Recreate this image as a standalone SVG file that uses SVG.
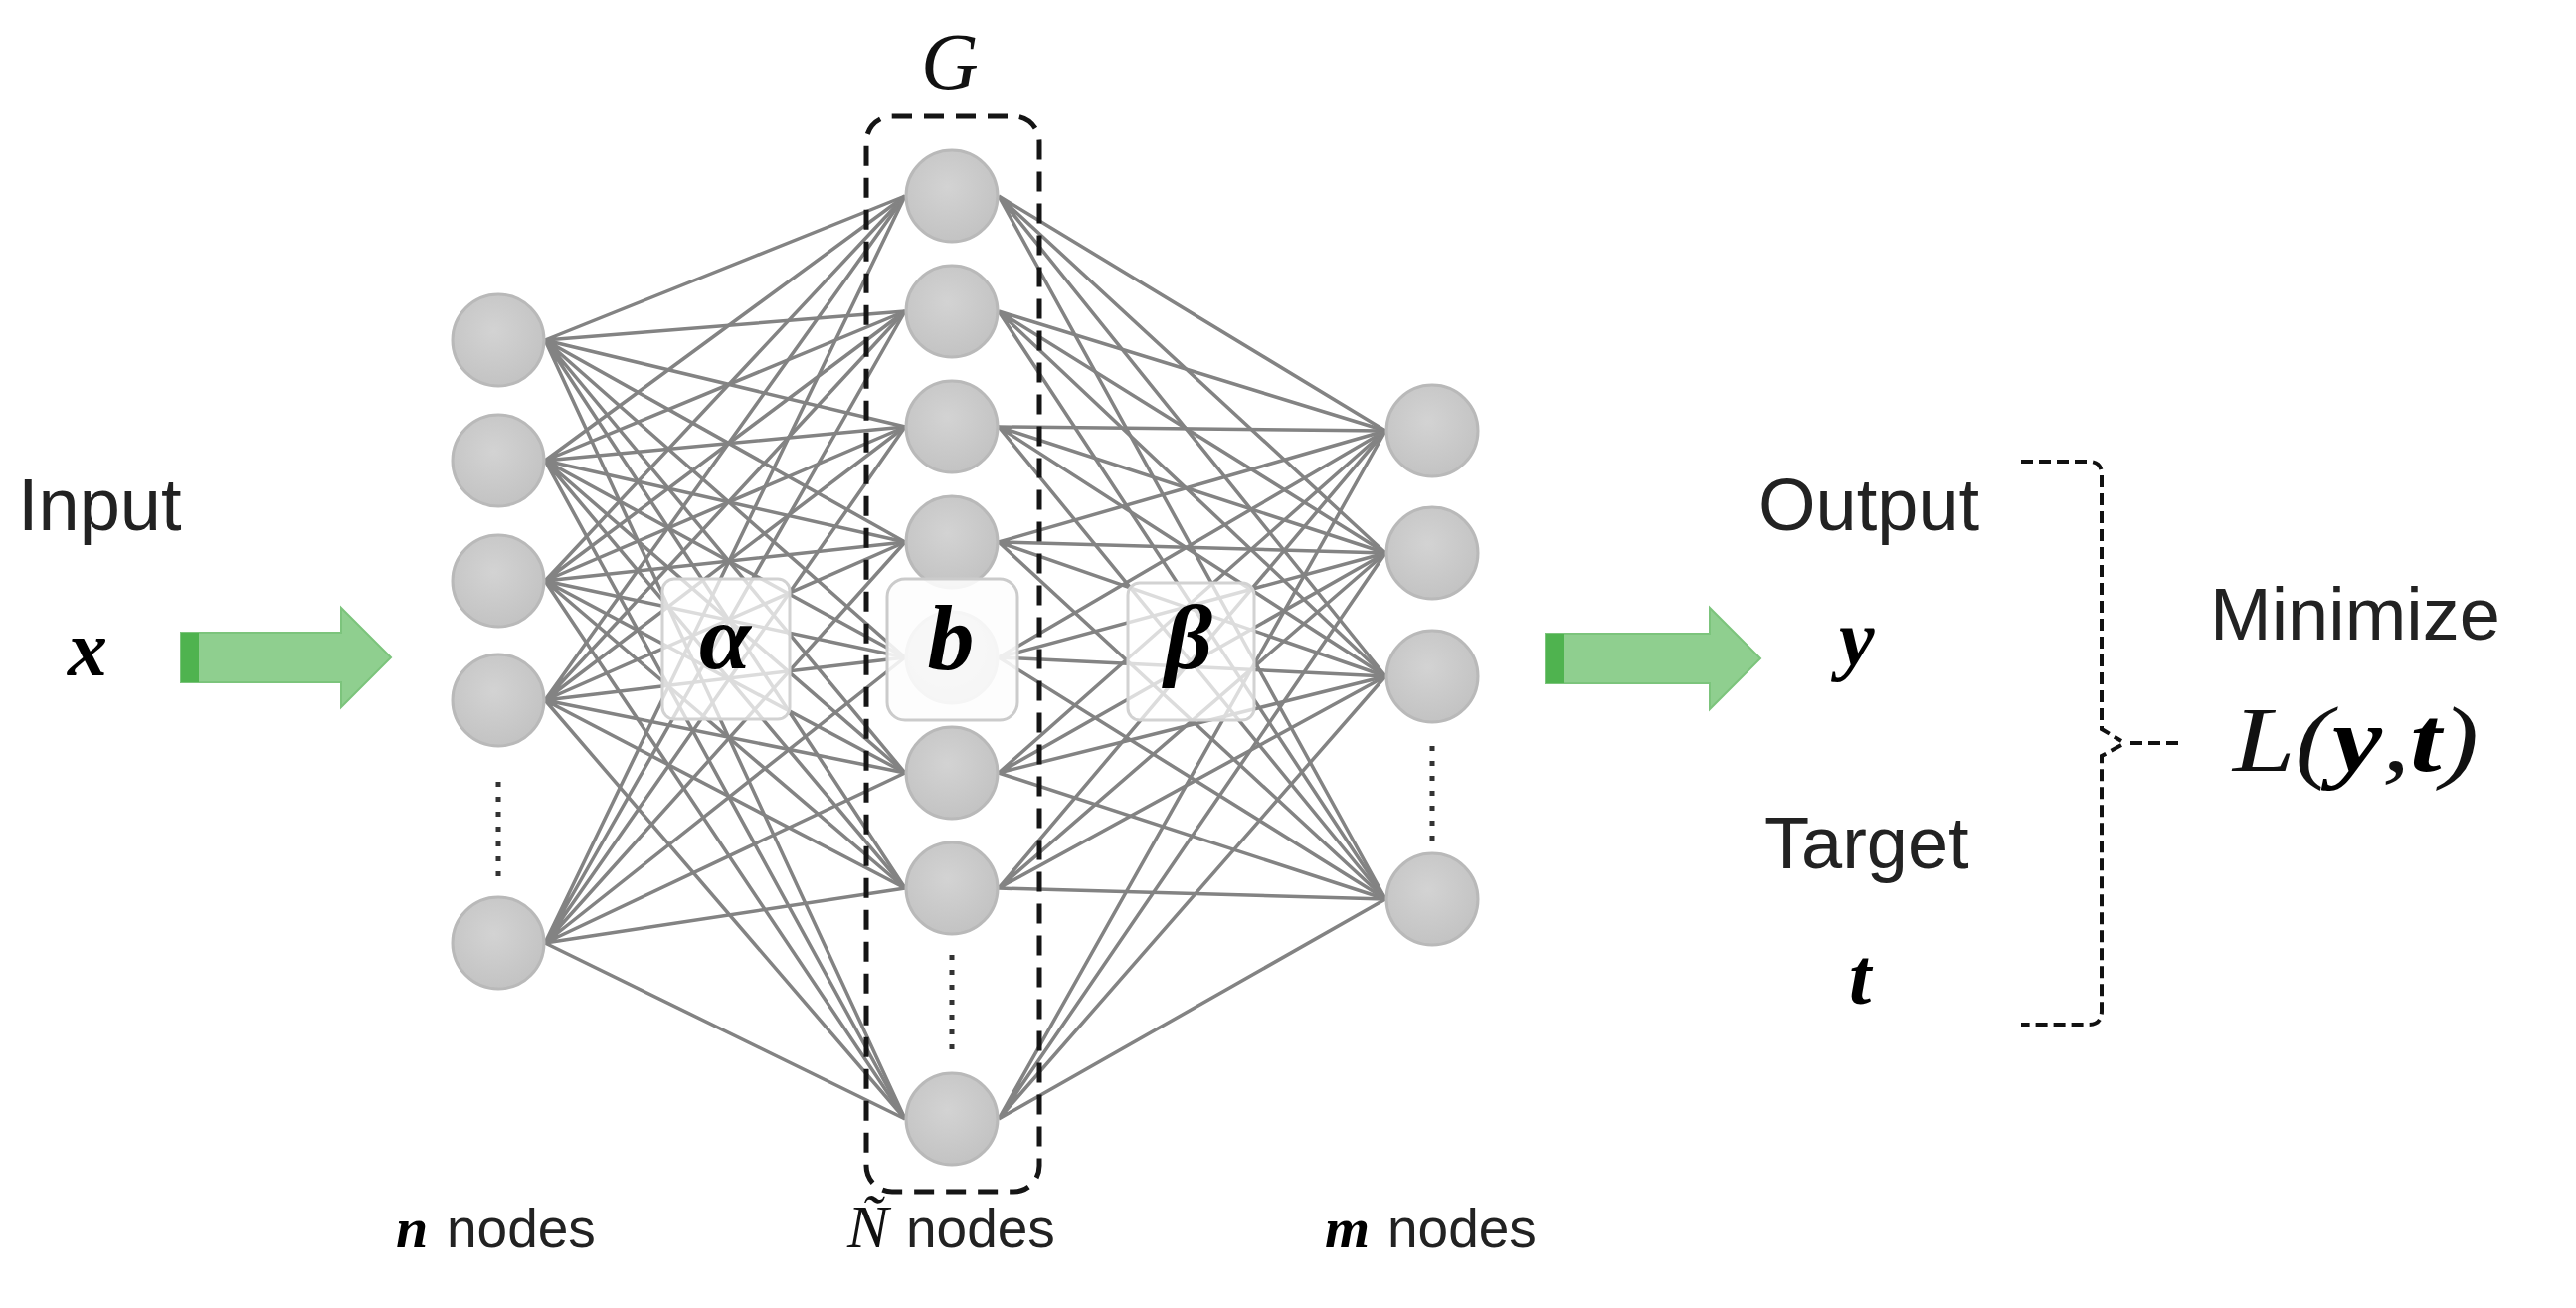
<svg xmlns="http://www.w3.org/2000/svg" width="2590" height="1315" viewBox="0 0 2590 1315">
<style>
.sans{font-family:"Liberation Sans","Noto Sans",Arial,sans-serif;fill:#222}
.math{font-family:"Liberation Serif","DejaVu Serif",serif;font-style:italic;fill:#111}
.bm{font-family:"Liberation Serif","DejaVu Serif",serif;font-style:italic;font-weight:bold;fill:#000}
.node{fill:url(#ng);stroke:#b9b9b9;stroke-width:3}
.edge{stroke:#838383;stroke-width:3.5;fill:none}
.dots{stroke:#333;stroke-width:5;stroke-dasharray:5 10;fill:none}
.garrow{fill:#8fcf8f;stroke:#7cc47c;stroke-width:2}
.gband{fill:#4fb34f}
</style>
<defs>
<radialGradient id="ng" cx="0.45" cy="0.4" r="0.6">
<stop offset="0" stop-color="#d3d3d3"/>
<stop offset="1" stop-color="#c3c3c3"/>
</radialGradient>
</defs>
<rect width="2590" height="1315" fill="#fff"/>
<g id="connectors">
<g class="edge">
<path d="M548,342L910,197M548,342L910,313M548,342L910,429M548,342L910,545M548,342L910,661M548,342L910,777M548,342L910,893M548,342L910,1125"/>
<path d="M548,463L910,197M548,463L910,313M548,463L910,429M548,463L910,545M548,463L910,661M548,463L910,777M548,463L910,893M548,463L910,1125"/>
<path d="M548,584L910,197M548,584L910,313M548,584L910,429M548,584L910,545M548,584L910,661M548,584L910,777M548,584L910,893M548,584L910,1125"/>
<path d="M548,704L910,197M548,704L910,313M548,704L910,429M548,704L910,545M548,704L910,661M548,704L910,777M548,704L910,893M548,704L910,1125"/>
<path d="M548,948L910,197M548,948L910,313M548,948L910,429M548,948L910,545M548,948L910,661M548,948L910,777M548,948L910,893M548,948L910,1125"/>
<path d="M1004,197L1393,433M1004,197L1393,556M1004,197L1393,680M1004,197L1393,904"/>
<path d="M1004,313L1393,433M1004,313L1393,556M1004,313L1393,680M1004,313L1393,904"/>
<path d="M1004,429L1393,433M1004,429L1393,556M1004,429L1393,680M1004,429L1393,904"/>
<path d="M1004,545L1393,433M1004,545L1393,556M1004,545L1393,680M1004,545L1393,904"/>
<path d="M1004,661L1393,433M1004,661L1393,556M1004,661L1393,680M1004,661L1393,904"/>
<path d="M1004,777L1393,433M1004,777L1393,556M1004,777L1393,680M1004,777L1393,904"/>
<path d="M1004,893L1393,433M1004,893L1393,556M1004,893L1393,680M1004,893L1393,904"/>
<path d="M1004,1125L1393,433M1004,1125L1393,556M1004,1125L1393,680M1004,1125L1393,904"/>
</g>
</g>
<g id="input-layer">
<circle class="node" cx="501" cy="342" r="46"/>
<circle class="node" cx="501" cy="463" r="46"/>
<circle class="node" cx="501" cy="584" r="46"/>
<circle class="node" cx="501" cy="704" r="46"/>
<circle class="node" cx="501" cy="948" r="46"/>
<line class="dots" x1="501" y1="786" x2="501" y2="884"/>
<text class="bm" x="398" y="1254" font-size="58">n</text>
<text class="sans" x="449" y="1254" font-size="55">nodes</text>
</g>
<g id="hidden-layer">
<circle class="node" cx="957" cy="197" r="46"/>
<circle class="node" cx="957" cy="313" r="46"/>
<circle class="node" cx="957" cy="429" r="46"/>
<circle class="node" cx="957" cy="545" r="46"/>
<circle class="node" cx="957" cy="661" r="46"/>
<circle class="node" cx="957" cy="777" r="46"/>
<circle class="node" cx="957" cy="893" r="46"/>
<circle class="node" cx="957" cy="1125" r="46"/>
<line class="dots" x1="957" y1="960" x2="957" y2="1060"/>
<text class="math" x="852" y="1254" font-size="62">Ñ</text>
<text class="sans" x="911" y="1254" font-size="55">nodes</text>
</g>
<g id="output-layer">
<circle class="node" cx="1440" cy="433" r="46"/>
<circle class="node" cx="1440" cy="556" r="46"/>
<circle class="node" cx="1440" cy="680" r="46"/>
<circle class="node" cx="1440" cy="904" r="46"/>
<line class="dots" x1="1440" y1="750" x2="1440" y2="850"/>
<text class="bm" x="1332" y="1254" font-size="58">m</text>
<text class="sans" x="1395" y="1254" font-size="55">nodes</text>
</g>
<g id="alpha">
<rect x="666" y="582" width="128" height="141" rx="12" fill="#fff" fill-opacity="0.72" stroke="#d2d2d2" stroke-width="3"/>
<text class="bm" x="729" y="672" font-size="94" text-anchor="middle">α</text>
</g>
<g id="b">
<rect x="892" y="582" width="131" height="142" rx="18" fill="#fdfdfd" fill-opacity="0.88" stroke="#cbcbcb" stroke-width="3"/>
<text class="bm" x="956" y="673" font-size="94" text-anchor="middle">b</text>
</g>
<g id="beta">
<rect x="1134" y="586" width="127" height="138" rx="12" fill="#fff" fill-opacity="0.72" stroke="#d2d2d2" stroke-width="3"/>
<text class="bm" x="1195" y="672" font-size="94" text-anchor="middle">β</text>
</g>
<g id="G">
<rect x="871" y="117" width="174" height="1081" rx="26" fill="none" stroke="#151515" stroke-width="5" stroke-dasharray="20 12"/>
<text class="math" x="955" y="89" font-size="80" text-anchor="middle">G</text>
</g>
<g id="input">
<text class="sans" x="18" y="533" font-size="74">Input</text>
<text class="bm" x="68" y="679" font-size="80">x</text>
<path class="garrow" d="M182,636H343V611L393,661L343,711V686H182Z"/>
<rect class="gband" x="182" y="636" width="18" height="50"/>
</g>
<g id="output">
<path class="garrow" d="M1554,637H1719V611L1770,662L1719,713V687H1554Z"/>
<rect class="gband" x="1554" y="637" width="18" height="50"/>
<text class="sans" x="1768" y="533" font-size="74">Output</text>
<text class="bm" x="1849" y="669" font-size="80">y</text>
</g>
<g id="target">
<text class="sans" x="1774" y="873" font-size="74">Target</text>
<text class="bm" x="1859" y="1009" font-size="80">t</text>
</g>
<g id="brace">
<path d="M2032,464H2100Q2113,464 2113,477V733L2133,745M2133,749L2113,760V1016Q2113,1030 2100,1030H2032M2142,747H2195" fill="none" stroke="#111" stroke-width="4" stroke-dasharray="12 6"/>
</g>
<g id="loss">
<text class="sans" x="2222" y="643" font-size="74">Minimize</text>
<text class="math" x="2245" y="775" font-size="94" textLength="247" lengthAdjust="spacingAndGlyphs">L(<tspan class="bm">y</tspan>,<tspan class="bm">t</tspan>)</text>
</g>
</svg>
